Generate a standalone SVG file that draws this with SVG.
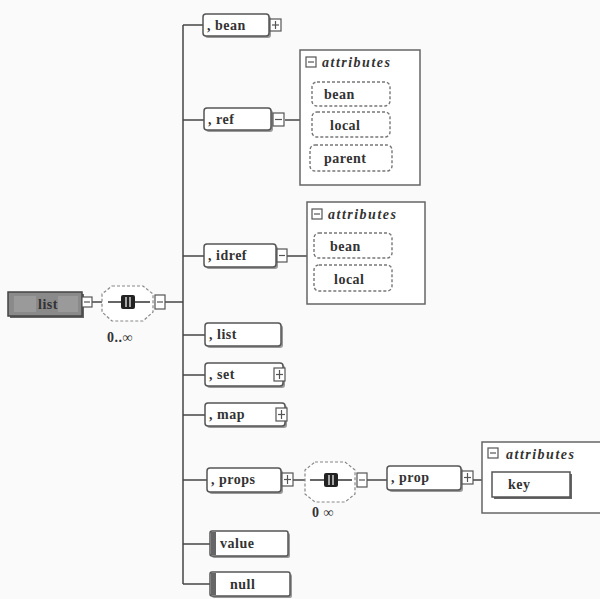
<svg xmlns="http://www.w3.org/2000/svg" width="600" height="599" viewBox="0 0 600 599">
<defs>
<style>
.bg{fill:#fafafa}
.el{fill:#fff;stroke:#555;stroke-width:1.5}
.sh{fill:#999}
.pl{fill:#fff;stroke:#555;stroke-width:1.2}
.pm{stroke:#555;stroke-width:1.2}
.t{font-family:"Liberation Serif",serif;font-size:14px;font-weight:bold;fill:#333;letter-spacing:0.5px}
.ti{font-family:"Liberation Serif",serif;font-size:14px;font-weight:bold;font-style:italic;fill:#333;letter-spacing:1.5px}
.ab{fill:#fff;stroke:#666;stroke-width:1.5}
.da{fill:#fff;stroke:#777;stroke-width:1.4;stroke-dasharray:3 2}
.oc{fill:#fff;stroke:#888;stroke-width:1.2;stroke-dasharray:3 2}
.ln{stroke:#444;stroke-width:1.5;fill:none}
</style>
</defs>
<rect class="bg" x="0" y="0" width="600" height="599"/>
<g id="connectors">
<line class="ln" x1="92" y1="302" x2="102" y2="302"/>
<line class="ln" x1="165" y1="302" x2="183" y2="302"/>
<line class="ln" x1="183" y1="25" x2="183" y2="584"/>
<line class="ln" x1="183" y1="25" x2="203" y2="25"/>
<line class="ln" x1="183" y1="120" x2="204" y2="120"/>
<line class="ln" x1="183" y1="256" x2="204" y2="256"/>
<line class="ln" x1="183" y1="335" x2="205" y2="335"/>
<line class="ln" x1="183" y1="375" x2="205" y2="375"/>
<line class="ln" x1="183" y1="415" x2="205" y2="415"/>
<line class="ln" x1="183" y1="480" x2="207" y2="480"/>
<line class="ln" x1="183" y1="544" x2="210" y2="544"/>
<line class="ln" x1="183" y1="584" x2="210" y2="584"/>
<line class="ln" x1="285" y1="120" x2="300" y2="120"/>
<line class="ln" x1="287" y1="256" x2="307" y2="256"/>
<line class="ln" x1="293" y1="480" x2="305" y2="480"/>
<line class="ln" x1="367" y1="480" x2="387" y2="480"/>
<line class="ln" x1="473" y1="480" x2="482" y2="480"/>
</g>
<g id="root">
<rect x="10" y="294" width="74" height="24" fill="#666"/>
<rect x="8" y="292" width="74" height="24" fill="#8a8a8a" stroke="#444" stroke-width="1.5"/>
<rect x="14" y="296" width="22" height="16" fill="#9a9a9a"/>
<rect x="58" y="296" width="20" height="16" fill="#9a9a9a"/>
<text class="t" x="38" y="309" font-size="13" fill="#222">list</text>
<rect class="pl" x="82" y="297" width="10" height="10"/>
<line class="pm" x1="84" y1="302" x2="90" y2="302"/>
</g>
<g id="choice1">
<polygon class="oc" points="112,286 143,286 153,294 153,312 143,321 112,321 102,312 102,294"/>
<line x1="108" y1="302" x2="150" y2="302" stroke="#333" stroke-width="1.3"/>
<rect x="121" y="295" width="14" height="14" rx="2" fill="#222"/>
<line x1="126" y1="297" x2="126" y2="307" stroke="#fff" stroke-width="1.2"/>
<line x1="130" y1="297" x2="130" y2="307" stroke="#fff" stroke-width="1.2"/>
<rect class="pl" x="155" y="295" width="10" height="14"/>
<line class="pm" x1="157" y1="302" x2="163" y2="302"/>
<text class="t" x="107" y="342" font-size="13">0..∞</text>
</g>
<g id="bean">
<rect class="sh" x="205" y="16" width="66" height="22" rx="3"/>
<rect class="el" x="203" y="14" width="66" height="22" rx="3"/>
<text class="t" x="207" y="30">, bean</text>
<rect class="pl" x="270" y="19" width="11" height="12"/>
<line class="pm" x1="272" y1="25" x2="279" y2="25"/><line class="pm" x1="275.5" y1="21" x2="275.5" y2="29"/>
</g>
<g id="ref">
<rect class="sh" x="206" y="110" width="67" height="22" rx="3"/>
<rect class="el" x="204" y="108" width="67" height="22" rx="3"/>
<text class="t" x="208" y="124">, ref</text>
<rect class="pl" x="273" y="113" width="11" height="13"/>
<line class="pm" x1="275" y1="119.5" x2="282" y2="119.5"/>
</g>
<g id="ref-attributes">
<rect class="ab" x="300" y="50" width="120" height="135"/>
<rect class="pl" x="306" y="57" width="10" height="10"/>
<line class="pm" x1="308" y1="62" x2="314" y2="62"/>
<text class="ti" x="322" y="67">attributes</text>
<rect class="da" x="312" y="82" width="78" height="24" rx="5"/>
<text class="t" x="324" y="99">bean</text>
<rect class="da" x="312" y="112" width="78" height="25" rx="5"/>
<text class="t" x="330" y="130">local</text>
<rect class="da" x="310" y="145" width="82" height="26" rx="5"/>
<text class="t" x="324" y="163">parent</text>
</g>
<g id="idref">
<rect class="sh" x="206" y="246" width="72" height="23" rx="3"/>
<rect class="el" x="204" y="244" width="72" height="23" rx="3"/>
<text class="t" x="208" y="260">, idref</text>
<rect class="pl" x="277" y="249" width="10" height="13"/>
<line class="pm" x1="279" y1="255.5" x2="285" y2="255.5"/>
</g>
<g id="idref-attributes">
<rect class="ab" x="307" y="202" width="118" height="102"/>
<rect class="pl" x="312" y="209" width="10" height="10"/>
<line class="pm" x1="314" y1="214" x2="320" y2="214"/>
<text class="ti" x="328" y="219">attributes</text>
<rect class="da" x="314" y="233" width="78" height="25" rx="5"/>
<text class="t" x="330" y="251">bean</text>
<rect class="da" x="314" y="265" width="78" height="26" rx="5"/>
<text class="t" x="334" y="284">local</text>
</g>
<g id="list">
<rect class="sh" x="207" y="325" width="76" height="23" rx="3"/>
<rect class="el" x="205" y="323" width="76" height="23" rx="3"/>
<text class="t" x="209" y="339">, list</text>
</g>
<g id="set">
<rect class="sh" x="207" y="365" width="78" height="23" rx="3"/>
<rect class="el" x="205" y="363" width="78" height="23" rx="3"/>
<text class="t" x="209" y="379">, set</text>
<rect class="pl" x="274" y="368" width="11" height="13"/>
<line class="pm" x1="276" y1="374.5" x2="283" y2="374.5"/><line class="pm" x1="279.5" y1="370" x2="279.5" y2="379"/>
</g>
<g id="map">
<rect class="sh" x="207" y="405" width="80" height="23" rx="3"/>
<rect class="el" x="205" y="403" width="80" height="23" rx="3"/>
<text class="t" x="209" y="419">, map</text>
<rect class="pl" x="276" y="408" width="11" height="13"/>
<line class="pm" x1="278" y1="414.5" x2="285" y2="414.5"/><line class="pm" x1="281.5" y1="410" x2="281.5" y2="419"/>
</g>
<g id="props">
<rect class="sh" x="209" y="470" width="74" height="24" rx="3"/>
<rect class="el" x="207" y="468" width="74" height="24" rx="3"/>
<text class="t" x="211" y="484">, props</text>
<rect class="pl" x="282" y="473" width="11" height="13"/>
<line class="pm" x1="284" y1="479.5" x2="291" y2="479.5"/><line class="pm" x1="287.5" y1="475" x2="287.5" y2="484"/>
</g>
<g id="choice2">
<polygon class="oc" points="315,462 345,462 355,470 355,494 345,502 315,502 305,494 305,470"/>
<line x1="310" y1="480" x2="352" y2="480" stroke="#333" stroke-width="1.3"/>
<rect x="324" y="473" width="14" height="14" rx="2" fill="#222"/>
<line x1="329" y1="475" x2="329" y2="485" stroke="#fff" stroke-width="1.2"/>
<line x1="333" y1="475" x2="333" y2="485" stroke="#fff" stroke-width="1.2"/>
<rect class="pl" x="357" y="473" width="10" height="14"/>
<line class="pm" x1="359" y1="480" x2="365" y2="480"/>
<text class="t" x="312" y="517" font-size="13">0  ∞</text>
</g>
<g id="prop">
<rect class="sh" x="389" y="468" width="74" height="24" rx="3"/>
<rect class="el" x="387" y="466" width="74" height="24" rx="3"/>
<text class="t" x="391" y="482">, prop</text>
<rect class="pl" x="462" y="471" width="11" height="13"/>
<line class="pm" x1="464" y1="477.5" x2="471" y2="477.5"/><line class="pm" x1="467.5" y1="473" x2="467.5" y2="482"/>
</g>
<g id="prop-attributes">
<rect class="ab" x="482" y="442" width="125" height="71"/>
<rect class="pl" x="488" y="448" width="10" height="10"/>
<line class="pm" x1="490" y1="453" x2="496" y2="453"/>
<text class="ti" x="506" y="459">attributes</text>
<rect x="494" y="474" width="78" height="25" fill="#666"/>
<rect x="492" y="472" width="78" height="25" fill="#fff" stroke="#555" stroke-width="1.5"/>
<text class="t" x="508" y="489">key</text>
</g>
<g id="value">
<rect class="sh" x="212" y="533" width="78" height="25" rx="2"/>
<rect class="el" x="210" y="531" width="78" height="25" rx="2" stroke-width="2"/>
<rect x="211" y="532" width="5" height="23" fill="#666"/>
<text class="t" x="220" y="548">value</text>
</g>
<g id="null">
<rect class="sh" x="212" y="574" width="80" height="24" rx="2"/>
<rect class="el" x="210" y="572" width="80" height="24" rx="2" stroke-width="2"/>
<rect x="211" y="573" width="5" height="22" fill="#666"/>
<text class="t" x="230" y="589">null</text>
</g>
</svg>
